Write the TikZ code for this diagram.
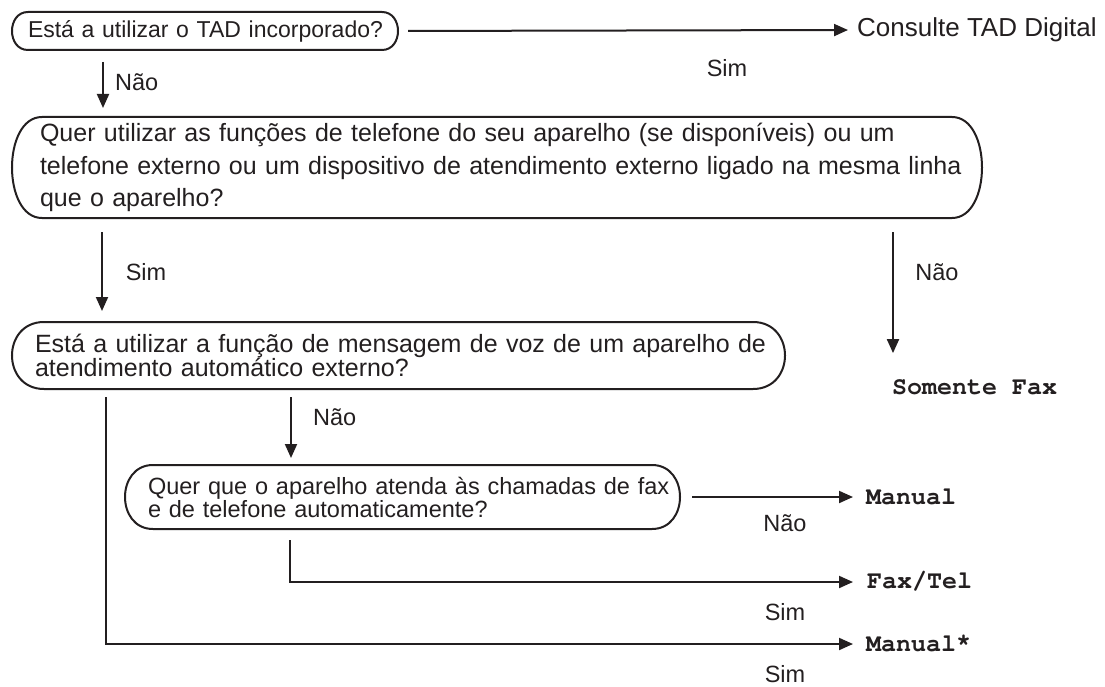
\documentclass[tikz,border=0pt]{standalone}
\usepackage{fontspec}
\setmainfont{Liberation Sans}
\usetikzlibrary{arrows.meta}
\definecolor{ink}{RGB}{35,31,32}
\newcommand\monob{\fontencoding{T1}\fontfamily{pcr}\fontseries{b}\selectfont}
\newcommand\pill[2]{%
 \draw[boxline] ([xshift=#2]#1.north west) -- ([xshift=-#2]#1.north east)
  .. controls ([xshift=#2/3]#1.north east) and ([xshift=#2/3]#1.south east) .. ([xshift=-#2]#1.south east)
  -- ([xshift=#2]#1.south west)
  .. controls ([xshift=-#2/3]#1.south west) and ([xshift=-#2/3]#1.north west) .. cycle;}
\tikzset{
  boxline/.style={draw=ink, line width=2pt},
  qbox/.style={draw=none, outer sep=0pt, inner ysep=0pt, align=left, text=ink},
  lab/.style={text=ink, inner sep=0pt, font=\fontsize{23.5}{28}\selectfont},
  res/.style={text=ink, inner sep=0pt, anchor=west, font=\fontsize{25}{28}\monob},
  conn/.style={draw=ink, line width=2pt},
  arr/.style={conn, -{Triangle[length=14pt,width=12pt]}},
}
\begin{document}
\begin{tikzpicture}[x=1pt,y=-1pt]
\useasboundingbox (0,0) rectangle (1105,687);
% boxes
\node[qbox, minimum width=386, minimum height=38, inner xsep=16pt, text width=354pt,
  font=\fontsize{23}{28}\selectfont] (b1) at (205,31) {\mbox{Está a utilizar o TAD incorporado?}};
\node[qbox, minimum width=970, minimum height=101, inner xsep=28pt, text width=914pt,
  font=\fontsize{25}{32.5}\selectfont] (b2) at (497,167.5)
  {\mbox{Quer utilizar as funções de telefone do seu aparelho (se disponíveis) ou um}\\
   \mbox{telefone externo ou um dispositivo de atendimento externo ligado na mesma linha}\\
   \mbox{que o aparelho?}};
\node[qbox, minimum width=773, minimum height=67, inner xsep=23pt, text width=727pt,
  font=\fontsize{25}{24}\selectfont] (b3) at (398.5,355.5)
  {\mbox{Está a utilizar a função de mensagem de voz de um aparelho de}\\
   \mbox{atendimento automático externo?}};
\node[qbox, minimum width=555, minimum height=64, inner xsep=23pt, text width=509pt,
  font=\fontsize{23.5}{23}\selectfont] (b4) at (402.5,497)
  {\mbox{Quer que o aparelho atenda às chamadas de fax}\\
   \mbox{e de telefone automaticamente?}};
\pill{b1}{16pt}
\pill{b2}{30pt}
\pill{b3}{32pt}
\pill{b4}{28pt}
% results
\node[lab, anchor=west, font=\fontsize{26}{28}\selectfont] (tad) at (857,30) {Consulte TAD Digital};
\node[res] (somente) at (892,387) {Somente Fax};
\node[res] (manual) at (866,497) {Manual};
\node[res] (faxtel) at (867,582) {Fax/Tel};
\node[res] (manualst) at (866,644) {Manual\smash{\raisebox{5pt}{*}}};
% x positions
\coordinate (xa) at (103,0);
\coordinate (xb) at (102,0);
\coordinate (xc) at (893,0);
\coordinate (xd) at (291,0);
\coordinate (xe) at (106,0);
\coordinate (xf) at (290,0);
% connectors
\draw[arr, shorten <=10pt, shorten >=9pt] (b1.east) -- (tad.west);
\draw[arr, shorten <=12pt, shorten >=9pt] (b1.south -| xa) -- (b2.north -| xa);
\draw[arr, shorten <=14pt, shorten >=11pt] (b2.south -| xb) -- (b3.north -| xb);
\draw[arr, shorten <=14pt, shorten >=26pt] (b2.south -| xc) -- (somente.north -| xc);
\draw[arr, shorten <=8pt, shorten >=7pt] (b3.south -| xd) -- (b4.north -| xd);
\draw[arr, shorten <=12pt, shorten >=13pt] (b4.east) -- (manual.west);
\draw[arr, shorten <=11pt, shorten >=14pt] (b4.south -| xf) |- (faxtel.west);
\draw[arr, shorten <=8pt, shorten >=13pt] (b3.south -| xe) |- (manualst.west);
% labels
\node[lab] (l1) at (727,68) {Sim};
\node[lab, anchor=west] (l2) at (115,82) {Não};
\node[lab] (l3) at (146,272) {Sim};
\node[lab] (l4) at (937,272) {Não};
\node[lab, anchor=west] (l5) at (313,417) {Não};
\node[lab] (l6) at (785,523) {Não};
\node[lab] (l7) at (785,612) {Sim};
\node[lab] (l8) at (785,674) {Sim};
\end{tikzpicture}
\end{document}
